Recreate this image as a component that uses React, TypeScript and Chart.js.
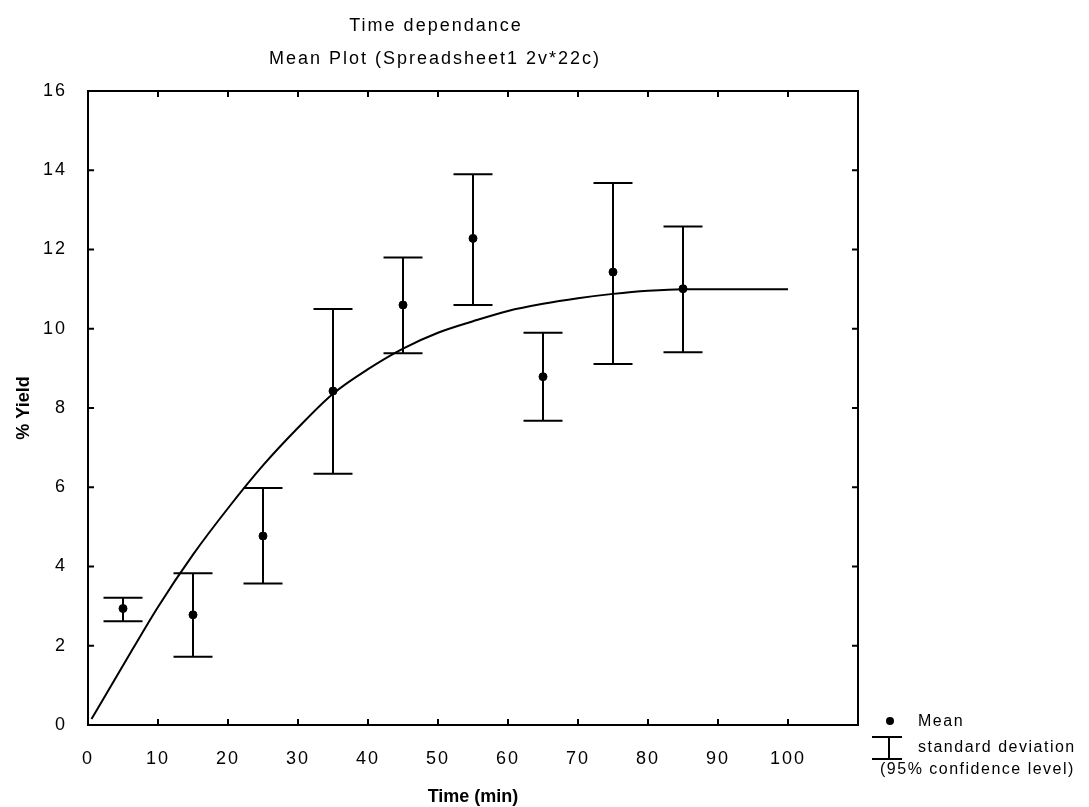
import React, { useEffect, useRef } from 'react';
import { Chart, registerables } from 'chart.js';

Chart.register(...registerables);

// ---- data ----
const timePoints = [5, 15, 25, 35, 45, 55, 65, 75, 85];
const meanYield = [2.94, 2.78, 4.77, 8.43, 10.6, 12.28, 8.79, 11.43, 11.01];
const upperYield = [3.21, 3.83, 5.98, 10.5, 11.8, 13.9, 9.9, 13.68, 12.58];
const lowerYield = [2.62, 1.72, 3.57, 6.34, 9.38, 10.6, 7.68, 9.11, 9.41];

const fitTime = [0.5, 5, 10, 15, 20, 25, 30, 35, 40, 45, 50, 55, 60, 65, 70, 75, 80, 85, 90, 95, 100];
const fitYield = [0.15, 1.5, 2.98, 4.3, 5.47, 6.55, 7.5, 8.36, 8.98, 9.5, 9.9, 10.19, 10.45, 10.63, 10.77, 10.88, 10.96, 11.0, 11.0, 11.0, 11.0];

const xTickValues = [0, 10, 20, 30, 40, 50, 60, 70, 80, 90, 100, 110];
const xTickLabels = ['0', '10', '20', '30', '40', '50', '60', '70', '80', '90', '100', ''];
const yTickValues = [0, 2, 4, 6, 8, 10, 12, 14, 16];

const titleLines = ['Time dependance', 'Mean Plot (Spreadsheet1 2v*22c)'];
const xAxisTitle = 'Time (min)';
const yAxisTitle = '% Yield';
const legendMean = 'Mean';
const legendSd = 'standard deviation';
const legendSd2 = '(95% confidence level)';

const FONT = '"Liberation Sans", Arial, sans-serif';

const decorPlugin = {
  id: 'decor',
  beforeDraw(chart: any) {
    const ctx = chart.ctx;
    ctx.save();
    ctx.fillStyle = '#ffffff';
    ctx.fillRect(0, 0, chart.width, chart.height);
    ctx.restore();
    // spaced lettering for tick labels (state kept for the scale drawing)
    (ctx as any).letterSpacing = '2px';
  },
  beforeDatasetsDraw(chart: any) {
    const ctx = chart.ctx;
    const xs = chart.scales.x;
    const ys = chart.scales.y;
    ctx.save();
    ctx.strokeStyle = '#000';
    ctx.lineWidth = 2;
    const half = 19.5;
    timePoints.forEach((t, i) => {
      const px = xs.getPixelForValue(t);
      const pu = ys.getPixelForValue(upperYield[i]);
      const pl = ys.getPixelForValue(lowerYield[i]);
      ctx.beginPath();
      ctx.moveTo(px, pu);
      ctx.lineTo(px, pl);
      ctx.moveTo(px - half, pu);
      ctx.lineTo(px + half, pu);
      ctx.moveTo(px - half, pl);
      ctx.lineTo(px + half, pl);
      ctx.stroke();
    });
    ctx.restore();
  },
  afterDraw(chart: any) {
    const ctx = chart.ctx;
    const a = chart.chartArea;
    const xs = chart.scales.x;
    const ys = chart.scales.y;
    ctx.save();
    ctx.strokeStyle = '#000';
    ctx.lineWidth = 2;
    ctx.strokeRect(a.left, a.top, a.right - a.left, a.bottom - a.top);
    // inward tick marks
    const tl = 6;
    ctx.beginPath();
    xTickValues.forEach((v) => {
      const px = xs.getPixelForValue(v);
      if (px <= a.left + 1 || px >= a.right - 1) return;
      ctx.moveTo(px, a.bottom);
      ctx.lineTo(px, a.bottom - tl);
      ctx.moveTo(px, a.top);
      ctx.lineTo(px, a.top + tl);
    });
    yTickValues.forEach((v) => {
      const py = ys.getPixelForValue(v);
      if (py <= a.top + 1 || py >= a.bottom - 1) return;
      ctx.moveTo(a.left, py);
      ctx.lineTo(a.left + tl, py);
      ctx.moveTo(a.right, py);
      ctx.lineTo(a.right - tl, py);
    });
    ctx.stroke();

    // titles
    ctx.fillStyle = '#000';
    ctx.textAlign = 'center';
    ctx.textBaseline = 'middle';
    (ctx as any).letterSpacing = '2px';
    ctx.font = `18px ${FONT}`;
    ctx.fillText(titleLines[0], 436, 26);
    ctx.fillText(titleLines[1], 435, 59);

    // axis titles
    (ctx as any).letterSpacing = '0px';
    ctx.font = `bold 18px ${FONT}`;
    ctx.fillText(xAxisTitle, (a.left + a.right) / 2, 797);
    ctx.save();
    ctx.translate(24, (a.top + a.bottom) / 2);
    ctx.rotate(-Math.PI / 2);
    ctx.fillText(yAxisTitle, 0, 0);
    ctx.restore();

    // legend
    ctx.beginPath();
    ctx.arc(890, 721, 4, 0, Math.PI * 2);
    ctx.fill();
    ctx.beginPath();
    ctx.moveTo(872, 737);
    ctx.lineTo(902, 737);
    ctx.moveTo(889, 737);
    ctx.lineTo(889, 759);
    ctx.moveTo(872, 759);
    ctx.lineTo(902, 759);
    ctx.stroke();
    ctx.textAlign = 'left';
    (ctx as any).letterSpacing = '1.5px';
    ctx.font = `16px ${FONT}`;
    ctx.fillText(legendMean, 918, 722);
    ctx.fillText(legendSd, 918, 748);
    ctx.fillText(legendSd2, 880, 770);
    ctx.restore();
  },
};

export default function App() {
  const ref = useRef<HTMLCanvasElement | null>(null);
  useEffect(() => {
    if (!ref.current) return;
    const chart = new Chart(ref.current, {
      type: 'scatter',
      data: {
        datasets: [
          {
            type: 'line',
            label: 'fit',
            data: fitTime.map((t, i) => ({ x: t, y: fitYield[i] })),
            borderColor: '#000',
            borderWidth: 2,
            pointRadius: 0,
            cubicInterpolationMode: 'monotone',
            fill: false,
          } as any,
          {
            type: 'scatter',
            label: legendMean,
            data: timePoints.map((t, i) => ({ x: t, y: meanYield[i] })),
            backgroundColor: '#000',
            borderColor: '#000',
            pointRadius: 4,
            pointHoverRadius: 4,
          },
        ],
      },
      options: {
        animation: false,
        responsive: false,
        maintainAspectRatio: false,
        events: [],
        layout: { padding: { top: 91, right: 231, left: 0, bottom: 0 } },
        plugins: {
          legend: { display: false },
          title: { display: false },
          tooltip: { enabled: false },
        },
        scales: {
          x: {
            type: 'linear',
            min: 0,
            max: 110,
            grid: { display: false },
            border: { display: false },
            afterBuildTicks: (scale: any) => {
              scale.ticks = xTickValues.map((v) => ({ value: v }));
            },
            afterFit: (scale: any) => {
              scale.height = 82;
            },
            ticks: {
              autoSkip: false,
              maxRotation: 0,
              padding: 15,
              color: '#000',
              font: { family: FONT, size: 18 },
              callback: (v: any) => xTickLabels[xTickValues.indexOf(Number(v))] ?? '',
            },
          },
          y: {
            type: 'linear',
            min: 0,
            max: 16,
            grid: { display: false },
            border: { display: false },
            afterBuildTicks: (scale: any) => {
              scale.ticks = yTickValues.map((v) => ({ value: v }));
            },
            afterFit: (scale: any) => {
              scale.width = 88;
            },
            ticks: {
              padding: 13,
              color: '#000',
              font: { family: FONT, size: 18 },
            },
          },
        },
      },
      plugins: [decorPlugin],
    });
    return () => chart.destroy();
  }, []);
  return (
    <div style={{ position: 'absolute', left: 0, top: 0, width: 1089, height: 807 }}>
      <canvas ref={ref} width={1089} height={807} style={{ width: 1089, height: 807, display: 'block' }} />
    </div>
  );
}
